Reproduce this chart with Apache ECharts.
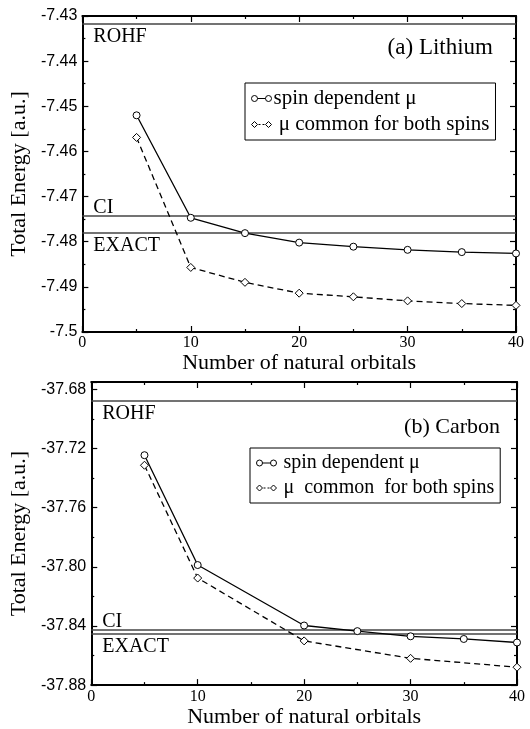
<!DOCTYPE html>
<html><head><meta charset="utf-8">
<script src="https://cdn.jsdelivr.net/npm/echarts@6/dist/echarts.min.js"></script>
<style>html,body{margin:0;padding:0;background:#fff}#c{width:530px;height:729px}</style>
</head><body><div id="c"></div>
<script>
// ---- data ----
const liOrbitals = [5, 10, 15, 20, 25, 30, 35, 40];
const liSpinDep = [-7.4520, -7.4747, -7.4781, -7.4802, -7.4811, -7.4818, -7.4823, -7.4826];
const liCommon  = [-7.4569, -7.4857, -7.4890, -7.4914, -7.4922, -7.4931, -7.4937, -7.4941];
const cOrbitalsSpin = [5, 10, 20, 25, 30, 35, 40];
const cSpinDep = [-37.7245, -37.7988, -37.8397, -37.8435, -37.8470, -37.8488, -37.8512];
const cOrbitalsCommon = [5, 10, 20, 30, 40];
const cCommon  = [-37.7313, -37.8076, -37.8501, -37.8619, -37.8679];
const refNames = ['ROHF', 'CI', 'EXACT'];
const liRefValues = [-7.4318, -7.4743, -7.4781];
const cRefValues = [-37.6880, -37.8424, -37.8453];
const refLabelPos = ['insideStartBottom', 'insideStartTop', 'insideStartBottom'];
const seriesNames = ['spin dependent \u03bc', ' \u03bc common for both spins'];
const seriesNamesC = ['spin dependent \u03bc', '\u03bc  common  for both spins'];

const SERIF = 'Liberation Serif';
const SANS = 'Liberation Sans';
const zip = (xs, ys) => xs.map((x, i) => [x, ys[i]]);

const circleIcon = 'path://M0,3A3,3 0 1,1 6,3A3,3 0 1,1 0,3ZM6,3L14,3M14,3A3,3 0 1,1 20,3A3,3 0 1,1 14,3Z';
const diamondIcon = 'path://M0,3L3,0L6,3L3,6ZM7,3L9,3M11,3L13,3M14,3L17,0L20,3L17,6Z';
const refDist = [[11, 3], [11, -2], [11, 2.5]];

function refMarkLine(values) {
  return {
    silent: true, symbol: 'none', precision: 6,
    lineStyle: {color: '#444', width: 1.5, type: 'solid'},
    data: values.map((v, i) => ({
      yAxis: v,
      label: {show: true, formatter: refNames[i], position: refLabelPos[i],
        distance: refDist[i], color: '#000', fontFamily: SERIF, fontSize: 20}
    }))
  };
}

function xAxes(gi) {
  const base = {type: 'value', gridIndex: gi, min: 0, max: 40, interval: 10,
    axisLine: {show: true, lineStyle: {color: '#000', width: 2}},
    axisTick: {show: true, inside: true, length: 6, lineStyle: {color: '#000', width: 1.2}},
    minorTick: {show: true, splitNumber: 2, length: 3, lineStyle: {color: '#000', width: 1.2}},
    splitLine: {show: false}};
  return [
    Object.assign({}, base, {position: 'bottom',
      name: 'Number of natural orbitals', nameLocation: 'middle', nameGap: gi === 0 ? 19 : 15,
      nameTextStyle: {fontFamily: SERIF, fontSize: 22, color: '#000'},
      axisLabel: {show: true, margin: gi === 0 ? 3 : 4, fontFamily: SERIF, fontSize: 16, color: '#000'}}),
    Object.assign({}, base, {position: 'top', axisLabel: {show: false}})
  ];
}

function yAxes(gi, min, max, interval, fmt, gap) {
  const base = {type: 'value', gridIndex: gi, min: min, max: max, interval: interval,
    axisLine: {show: true, onZero: false, lineStyle: {color: '#000', width: 2}},
    axisTick: {show: true, inside: true, length: 6, lineStyle: {color: '#000', width: 1.2}},
    minorTick: {show: true, splitNumber: 2, length: 3, lineStyle: {color: '#000', width: 1.2}},
    splitLine: {show: false}};
  return [
    Object.assign({}, base, {position: 'left',
      name: 'Total Energy [a.u.]', nameLocation: 'middle', nameGap: gap, nameRotate: 90,
      nameTextStyle: {fontFamily: SERIF, fontSize: 22, color: '#000'},
      axisLabel: {show: true, margin: 5, fontFamily: SANS, fontSize: 16, color: '#000',
        showMaxLabel: gi === 0, formatter: fmt}}),
    Object.assign({}, base, {position: 'right', axisLabel: {show: false}})
  ];
}

const solidStyle = {color: '#000', width: 1.3, type: 'solid'};
const dashStyle = {color: '#000', width: 1.3, type: [6, 4]};
const itemSt = {color: '#fff', borderColor: '#000', borderWidth: 1};

const option = {
  animation: false,
  backgroundColor: '#fff',
  title: [
    {text: '(a) Lithium', right: 37, top: 36, padding: 0,
      textStyle: {fontFamily: SERIF, fontSize: 23, fontWeight: 'normal', color: '#000'}},
    {text: '(b) Carbon', right: 30, top: 416, padding: 0,
      textStyle: {fontFamily: SERIF, fontSize: 22, fontWeight: 'normal', color: '#000'}}
  ],
  legend: [
    {seriesIndex: [0, 1], data: [{name: seriesNames[0], icon: circleIcon}, {name: seriesNames[1], icon: diamondIcon}],
      orient: 'vertical', left: 245, top: 83, itemWidth: 20, itemHeight: 6, itemGap: 5,
      padding: [5, 6, 5, 6], borderColor: '#000', borderWidth: 1, backgroundColor: '#fff',
      selectedMode: false, itemStyle: itemSt,
      textStyle: {fontFamily: SERIF, fontSize: 21, color: '#000', lineHeight: 18, padding: [0, 0, 0, -3]}},
    {data: [{name: seriesNamesC[0], icon: circleIcon}, {name: seriesNamesC[1], icon: diamondIcon}],
      orient: 'vertical', left: 250, top: 448, itemWidth: 24, itemHeight: 6, itemGap: 5,
      padding: [5, 6, 5, 6], borderColor: '#000', borderWidth: 1, backgroundColor: '#fff',
      selectedMode: false, itemStyle: itemSt,
      textStyle: {fontFamily: SERIF, fontSize: 20, color: '#000', lineHeight: 18}}
  ],
  grid: [
    {left: 79, top: 16, width: 437, height: 316},
    {left: 87, top: 382, width: 430, height: 308}
  ],
  xAxis: [].concat(xAxes(0), xAxes(1)),
  yAxis: [].concat(
    yAxes(0, -7.5, -7.43, 0.01, v => String(parseFloat(v.toFixed(2))), 49),
    yAxes(1, -37.88, -37.675, 0.04, v => v.toFixed(2), 57)
  ),
  series: [
    {name: seriesNames[0], type: 'line', xAxisIndex: 0, yAxisIndex: 0, data: zip(liOrbitals, liSpinDep),
      symbol: 'circle', symbolSize: 7, lineStyle: solidStyle, itemStyle: itemSt, z: 5,
      markLine: refMarkLine(liRefValues)},
    {name: seriesNames[1], type: 'line', xAxisIndex: 0, yAxisIndex: 0, data: zip(liOrbitals, liCommon),
      symbol: 'diamond', symbolSize: 8, lineStyle: dashStyle, itemStyle: itemSt, z: 5},
    {name: seriesNamesC[0], type: 'line', xAxisIndex: 2, yAxisIndex: 2, data: zip(cOrbitalsSpin, cSpinDep),
      symbol: 'circle', symbolSize: 7, lineStyle: solidStyle, itemStyle: itemSt, z: 5,
      markLine: refMarkLine(cRefValues)},
    {name: seriesNamesC[1], type: 'line', xAxisIndex: 2, yAxisIndex: 2, data: zip(cOrbitalsCommon, cCommon),
      symbol: 'diamond', symbolSize: 8, lineStyle: dashStyle, itemStyle: itemSt, z: 5}
  ]
};
const chart = echarts.init(document.getElementById('c'), null, {renderer: 'canvas'});
chart.setOption(option);
</script></body></html>
